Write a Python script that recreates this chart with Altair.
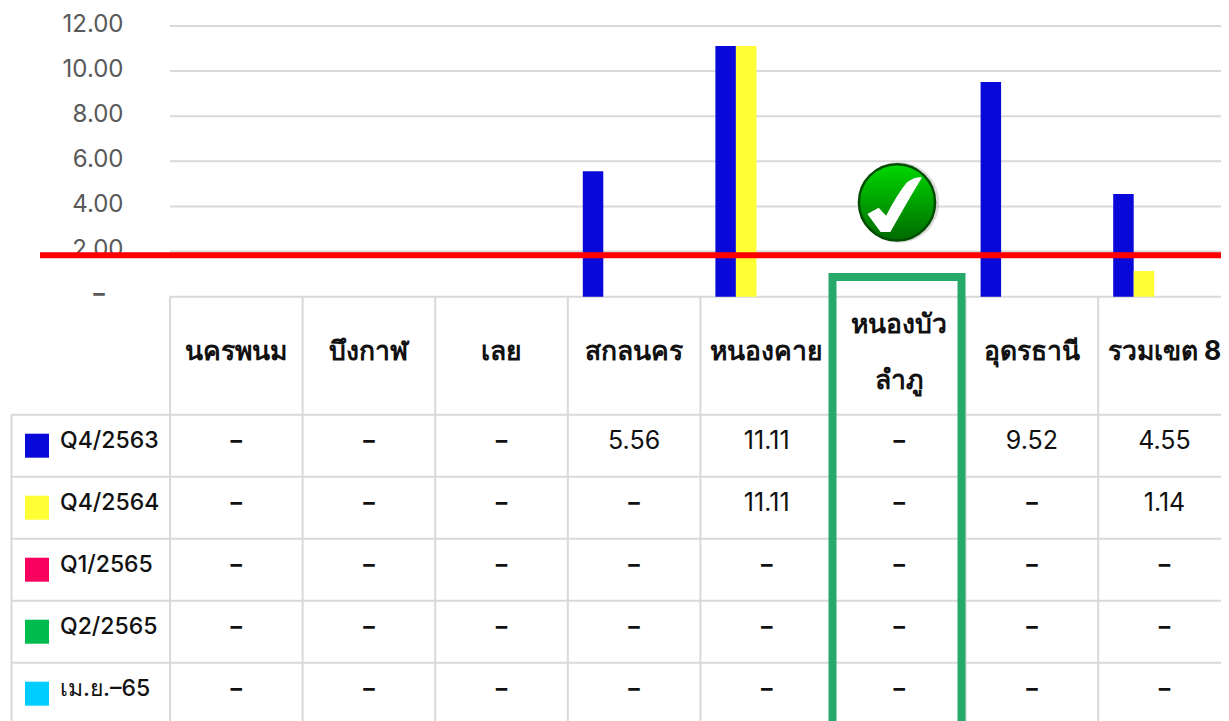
import altair as alt
import pandas as pd

provinces = ["นครพนม", "บึงกาฬ", "เลย", "สกลนคร", "หนองคาย", "หนองบัว\nลำภู", "อุดรธานี", "รวมเขต 8"]
series = ["Q4/2563", "Q4/2564", "Q1/2565", "Q2/2565", "เม.ย.–65"]
colors = ["#0808d8", "#ffff33", "#f80060", "#00bb4d", "#00ccff"]
values = {
    "Q4/2563": [None, None, None, 5.56, 11.11, None, 9.52, 4.55],
    "Q4/2564": [None, None, None, None, 11.11, None, None, 1.14],
    "Q1/2565": [None] * 8,
    "Q2/2565": [None] * 8,
    "เม.ย.–65": [None] * 8,
}
ticks = [0, 2, 4, 6, 8, 10, 12]
target = 1.84
check_value = 4.18

FONT = "Inter"
LINE = "#d9d9d9"
INK = "#111111"
AXIS_INK = "#595959"

long = pd.DataFrame(
    [
        {
            "province": p,
            "series": s,
            "value": values[s][i] or 0,
            "label": "–" if values[s][i] is None else f"{values[s][i]:.2f}",
        }
        for s in series
        for i, p in enumerate(provinces)
    ]
)
prov_df = pd.DataFrame({"province": provinces})
ser_df = pd.DataFrame({"series": series})
tick_df = pd.DataFrame({"value": ticks})

x_scale = alt.Scale(domain=provinces, range=[162, 1222.8], paddingInner=0, paddingOuter=0)
y_scale = alt.Scale(domain=[0, 12], range=[288.7, 18], nice=False, zero=False)
r_scale = alt.Scale(domain=series, range=[406.7, 716.7], paddingInner=0, paddingOuter=0)
c_scale = alt.Scale(domain=series, range=colors)


def X(**kw):
    return alt.X("province:N", scale=x_scale, axis=None, sort=provinces, title=None, **kw)


def R(**kw):
    return alt.Y("series:N", scale=r_scale, axis=None, sort=series, title=None, **kw)


def V(field="value:Q", axis=None):
    return alt.Y(field, scale=y_scale, axis=axis, title=None)


grid = alt.Chart(tick_df).mark_rule(color=LINE, strokeWidth=2).encode(
    y=V(), x=alt.value(162), x2=alt.value(1221)
)

bars = alt.Chart(long).mark_bar(size=20.5, xOffset=0.8).encode(
    x=X(),
    xOffset=alt.XOffset(
        "series:N", sort=series, scale=alt.Scale(domain=series, paddingInner=0, paddingOuter=0.73)
    ),
    y=V(
        axis=alt.Axis(
            values=ticks,
            offset=-120,
            domain=False,
            ticks=False,
            grid=False,
            labelPadding=5,
            labelFont=FONT,
            labelFontSize=24,
            labelColor=AXIS_INK,
            labelOffset=-2,
            labelExpr="datum.value == 0 ? '' : format(datum.value, '.2f')",
        )
    ),
    color=alt.Color("series:N", scale=c_scale, legend=None),
)
zero_label = alt.Chart(pd.DataFrame({"value": [0], "label": ["–"]})).mark_text(
    font=FONT, fontSize=23, fontWeight="bold", color=AXIS_INK, baseline="middle", dy=-3
).encode(x=alt.value(91), y=V(), text="label:N")

vlines = alt.Chart(prov_df).mark_rule(color=LINE, strokeWidth=2).encode(
    x=X(bandPosition=0), y=alt.value(288.7), y2=alt.value(713)
)
left_line = alt.Chart(ser_df.head(1)).mark_rule(color=LINE, strokeWidth=2).encode(
    x=alt.value(3.5), y=R(bandPosition=0), y2=alt.value(713)
)
hlines = alt.Chart(ser_df).mark_rule(color=LINE, strokeWidth=2).encode(
    y=R(bandPosition=0), x=alt.value(3.5), x2=alt.value(1221)
)

red = alt.Chart(pd.DataFrame({"value": [target]})).mark_rule(color="#ff0000", strokeWidth=6).encode(
    y=V(), x=alt.value(32), x2=alt.value(1221)
)

header_style = dict(
    font=FONT, fontSize=26.5, fontWeight="bold", color=INK, lineBreak="\n", lineHeight=56,
    baseline="middle",
)
one_line = prov_df[~prov_df["province"].str.contains("\n")]
two_line = prov_df[prov_df["province"].str.contains("\n")]
headers = alt.Chart(one_line).mark_text(**header_style).encode(
    x=X(), y=alt.value(344), text="province:N"
)
headers2 = alt.Chart(two_line).mark_text(**header_style).encode(
    x=X(), y=alt.value(317), text="province:N"
)

cells = alt.Chart(long[long["label"] != "–"]).mark_text(
    font=FONT, fontSize=25, color=INK, baseline="middle", dy=-5
).encode(x=X(), y=R(), text="label:N")
dashes = alt.Chart(long[long["label"] == "–"]).mark_text(
    font=FONT, fontSize=23, fontWeight="bold", color=INK, baseline="middle", dy=-5
).encode(x=X(), y=R(), text="label:N")

swatches = alt.Chart(ser_df).mark_square(size=576, opacity=1).encode(
    x=alt.value(29), y=R(), color=alt.Color("series:N", scale=c_scale, legend=None)
)
row_labels = alt.Chart(ser_df).mark_text(
    font=FONT, fontSize=23, fontWeight=500, color=INK, align="left", baseline="middle", dy=-5
).encode(x=alt.value(52), y=R(), text="series:N")

box = alt.Chart(pd.DataFrame({"a": [1]})).mark_rect(
    fillOpacity=0, stroke="#27a96c", strokeWidth=8
).encode(x=alt.value(824.5), x2=alt.value(953.5), y=alt.value(269), y2=alt.value(780))

icon_df = pd.DataFrame({"value": [check_value]})
shadow = alt.Chart(icon_df).mark_circle(size=6500, color="#999999", opacity=0.35).encode(
    x=alt.value(891), y=V()
)
disc = alt.Chart(icon_df).mark_circle(
    size=5800,
    opacity=1,
    color=alt.LinearGradient(
        gradient="linear",
        stops=[
            alt.GradientStop(color="#00d800", offset=0),
            alt.GradientStop(color="#006a00", offset=1),
        ],
        x1=0.5, x2=0.5, y1=0, y2=1,
    ),
    stroke="#004d00",
    strokeWidth=2.5,
).encode(x=alt.value(889), y=V())
tick_mark = alt.Chart(icon_df).mark_point(
    shape="M-0.76 0.30 L-0.47 0.14 L-0.28 0.34 Q0 -0.2 0.25 -0.51 Q0.45 -0.66 0.64 -0.64 Q0.28 -0.05 -0.17 0.76 L-0.42 0.76 Z",
    filled=True,
    fill="#ffffff",
    opacity=1,
    size=6084,
).encode(x=alt.value(889), y=V())

chart = (
    alt.layer(
        grid, bars, zero_label, vlines, left_line, hlines, red, headers, headers2, cells, dashes,
        swatches, row_labels, box, shadow, disc, tick_mark,
    )
    .resolve_scale(y="independent", color="shared")
    .properties(
        width=1213,
        height=713,
        padding=0,
        autosize=alt.AutoSizeParams(type="none"),
        background="white",
    )
    .configure_view(stroke=None)
)

chart.save("out.html", embed_options={"renderer": "svg", "actions": False})
